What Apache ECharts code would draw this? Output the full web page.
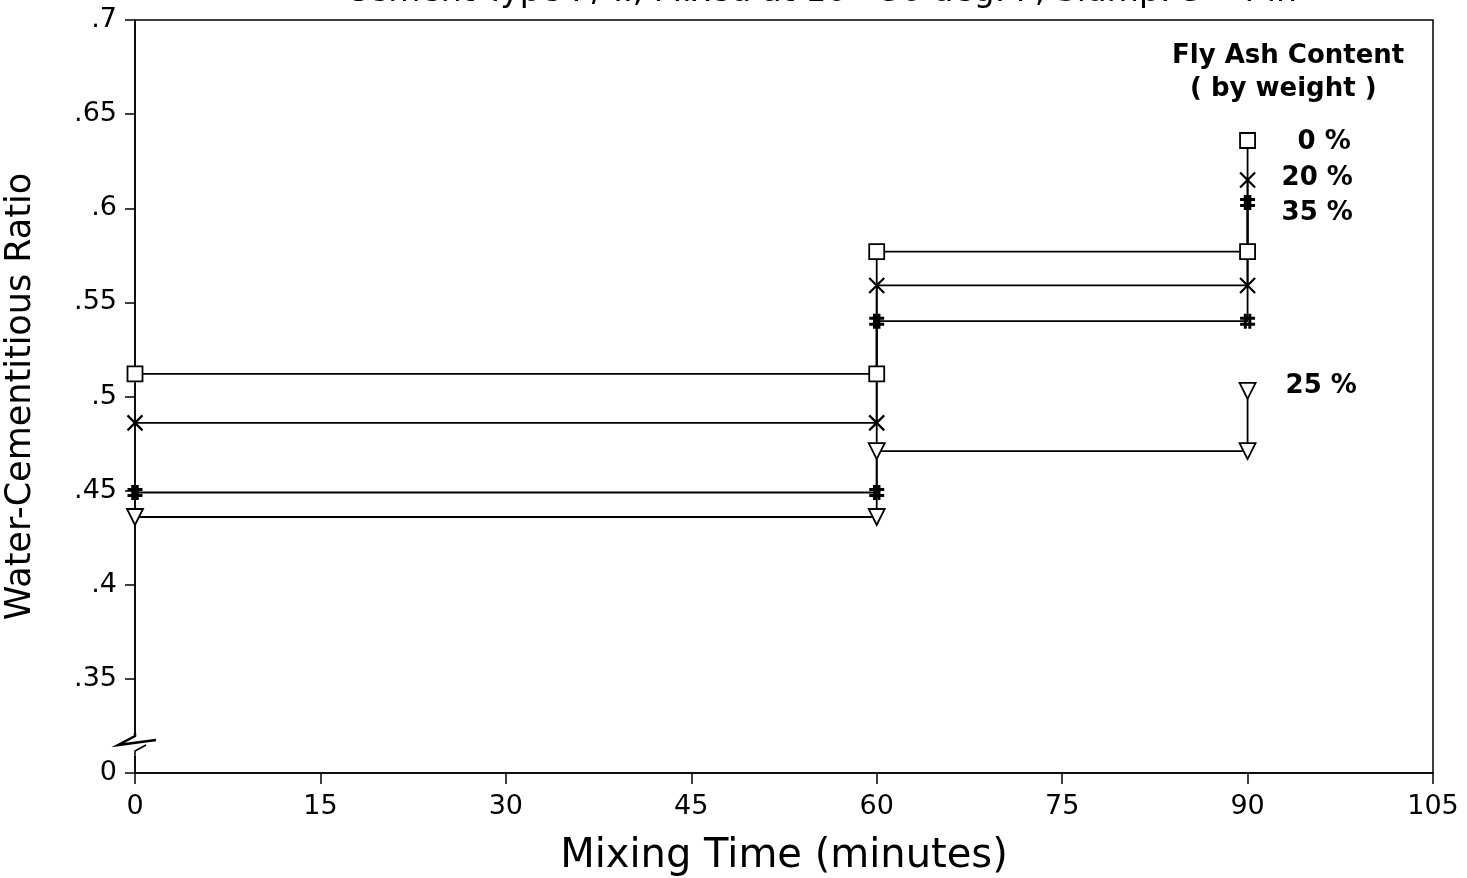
<!DOCTYPE html>
<html>
<head>
<meta charset="utf-8">
<script src="https://cdn.jsdelivr.net/npm/echarts@6/dist/echarts.min.js"></script>
<style>html,body{margin:0;padding:0;background:#fff;}#c{width:1467px;height:878px;}</style>
</head>
<body>
<div id="c"></div>
<script>
// Mixing time points (minutes)
const times = [0, 60, 60, 90, 90];
// Water-cementitious ratio per fly ash content
const fa0  = [0.512, 0.512, 0.577, 0.577, 0.636];
const fa20 = [0.486, 0.486, 0.559, 0.559, 0.615];
const fa35 = [0.449, 0.449, 0.540, 0.540, 0.603];
const fa25 = [0.436, 0.436, 0.471, 0.471, 0.503];
const seriesNames = ['0 %', '20 %', '35 %', '25 %'];
const xTicks = [0, 15, 30, 45, 60, 75, 90, 105];

const FONT = 'DejaVu Sans';
const pairs = (ys) => times.map((t, i) => [t, ys[i]]);

const hollow = { color: '#fff', borderColor: '#000', borderWidth: 1.8 };
const stroke = { color: '#000', borderColor: '#000', borderWidth: 2.2 };
const heavy = { color: '#000', borderColor: '#000', borderWidth: 3 };

function mk(name, ys, symbol, size, itemStyle, labelOffset, rotate) {
  return {
    type: 'line', name: name, data: pairs(ys),
    symbol: symbol, symbolSize: size, symbolRotate: rotate || 0,
    showAllSymbol: true,
    lineStyle: { color: '#000', width: 1.8 },
    itemStyle: itemStyle,
    z: 3,
    endLabel: {
      show: true, formatter: name, distance: 0, offset: labelOffset,
      fontFamily: FONT, fontSize: 26, fontWeight: 'bold', color: '#000'
    },
    animation: false
  };
}

const chart = echarts.init(document.getElementById('c'), null, { renderer: 'canvas' });
chart.setOption({
  backgroundColor: '#fff',
  animation: false,
  grid: { left: 135, right: 34, top: 20, bottom: 105, show: true, borderColor: '#000', borderWidth: 1.5,
          containLabel: false, outerBoundsMode: 'none' },
  xAxis: {
    type: 'value', min: 0, max: 105, interval: 15,
    name: 'Mixing Time (minutes)', nameLocation: 'middle', nameGap: 64,
    nameTextStyle: { fontFamily: FONT, fontSize: 40, color: '#000' },
    axisLine: { lineStyle: { color: '#000', width: 1.5 } },
    axisTick: { show: true, length: 11, lineStyle: { color: '#000', width: 1.5 } },
    axisLabel: { fontFamily: FONT, fontSize: 27, color: '#000', margin: 20,
      formatter: v => xTicks.includes(v) ? String(v) : '' },
    splitLine: { show: false }
  },
  yAxis: {
    type: 'value', min: 0.3, max: 0.7, interval: 0.05,
    name: 'Water-Cementitious Ratio', nameLocation: 'middle', nameGap: 97, nameRotate: 90,
    nameTextStyle: { fontFamily: FONT, fontSize: 35, color: '#000' },
    axisLine: { show: true, lineStyle: { color: '#000', width: 1.5 } },
    axisTick: { show: true, length: 10, lineStyle: { color: '#000', width: 1.5 } },
    axisLabel: { fontFamily: FONT, fontSize: 27, color: '#000', margin: 18,
      formatter: v => v < 0.31 ? '0' : parseFloat(v.toFixed(2)).toString().replace(/^0/, '') },
    splitLine: { show: false }
  },
  series: [
    mk(seriesNames[0], fa0, 'rect', 15, hollow, [50, 2]),
    mk(seriesNames[1], fa20, 'path://M0,0L10,10M10,0L0,10', 15, stroke, [34, -2]),
    mk(seriesNames[2], fa35, 'path://M0,3L10,3M0,7L10,7M3.5,0L3.5,10M6.5,0L6.5,10', 15, heavy, [34, 11]),
    mk(seriesNames[3], fa25, 'triangle', 16, hollow, [38, -5], 180)
  ],
  graphic: [
    { type: 'text', left: 1172, top: 43,
      style: { text: 'Fly Ash Content', font: 'bold 26px ' + FONT, fill: '#000' } },
    { type: 'text', left: 1190, top: 76,
      style: { text: '( by weight )', font: 'bold 26px ' + FONT, fill: '#000' } },
    { type: 'text', left: 345, top: -24,
      style: { text: 'Cement Type I / II, Mixed at 10 - 30 deg. F, Slump: 3 - 4 in', font: '33px ' + FONT, fill: '#000' } },
    // axis break
    { type: 'rect', shape: { x: 128, y: 733, width: 14, height: 23 }, style: { fill: '#fff' }, z: 10 },
    { type: 'polyline', shape: { points: [[135, 733], [135, 736], [118, 745], [156, 740]] },
      style: { stroke: '#000', lineWidth: 2.5, fill: null }, z: 11 },
    { type: 'polyline', shape: { points: [[135, 757], [135, 751], [146, 745]] },
      style: { stroke: '#000', lineWidth: 1.5, fill: null }, z: 11 }
  ]
});
</script>
</body>
</html>
